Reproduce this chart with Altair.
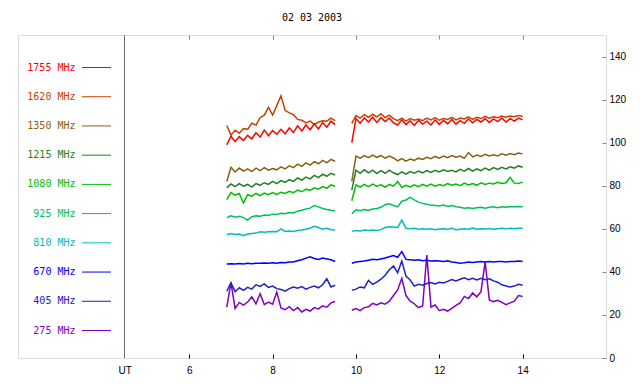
import altair as alt
import pandas as pd

# sample times (UT hours) of the two recorded segments
T1 = [round(6.9 + 0.1 * i, 2) for i in range(27)]
T2 = [round(9.9 + 0.1 * i, 2) for i in range(42)]

LABELS = ["1755 MHz", "1620 MHz", "1350 MHz", "1215 MHz", "1080 MHz",
          "925 MHz", "810 MHz", "670 MHz", "405 MHz", "275 MHz"]
COLORS = ["#ff0000", "#c84000", "#8a6010", "#228022", "#00c000",
          "#00c060", "#00bcbc", "#0000ff", "#2020c4", "#8000c0"]

S1755_A = [99.0, 103.0, 100.5, 102.8, 101.0, 103.4, 101.8, 104.6, 102.6, 105.8, 103.2, 105.6, 103.9, 106.2,
           104.1, 106.8, 104.7, 107.8, 105.4, 108.2, 106.0, 108.8, 106.4, 109.4, 107.2, 110.0, 108.4]
S1755_B = [100.0, 111.2, 109.0, 111.5, 109.6, 111.8, 109.4, 111.6, 109.8, 111.4, 109.2, 108.2, 110.6, 108.4,
           110.2, 108.0, 110.4, 108.6, 110.0, 108.2, 110.6, 108.5, 110.3, 108.8, 110.8, 108.6, 110.2, 109.0,
           111.0, 109.2, 110.8, 109.6, 111.2, 109.4, 111.0, 109.8, 111.4, 109.6, 111.2, 110.0, 111.4, 110.6]
S1620_A = [108.0, 103.5, 105.8, 104.4, 106.6, 106.2, 109.0, 108.2, 111.6, 112.8, 116.4, 112.8, 117.2, 121.8,
           115.0, 113.8, 113.0, 110.8, 110.4, 109.2, 110.0, 108.4, 109.6, 110.2, 110.0, 111.4, 110.2]
S1620_B = [109.0, 112.6, 111.4, 113.0, 111.8, 113.2, 112.0, 113.4, 111.6, 112.8, 111.2, 110.2, 111.4, 110.0,
           111.2, 110.4, 111.0, 110.2, 111.4, 110.6, 111.6, 110.4, 111.2, 110.8, 111.8, 110.6, 111.4, 111.0,
           112.0, 110.8, 111.8, 111.2, 112.2, 111.4, 112.0, 111.6, 112.4, 111.8, 112.4, 112.0, 112.6, 112.2]
S1350_A = [82.0, 88.6, 86.4, 88.2, 86.8, 87.8, 86.6, 88.2, 87.0, 88.4, 87.2, 88.0, 87.4, 88.8,
           87.8, 89.2, 88.4, 90.0, 89.0, 90.6, 89.6, 91.2, 90.2, 91.8, 90.6, 92.2, 91.4]
S1350_B = [82.0, 93.8, 92.8, 94.0, 93.0, 94.2, 93.2, 94.0, 92.8, 93.8, 92.9, 91.6, 92.6, 91.4,
           92.4, 91.8, 92.8, 92.2, 93.2, 92.6, 93.6, 92.8, 93.8, 93.0, 94.0, 93.2, 93.8, 92.8,
           95.4, 93.4, 94.2, 93.6, 94.6, 93.8, 94.4, 93.8, 94.8, 94.2, 95.0, 94.4, 95.2, 94.8]
S1215_A = [79.0, 80.8, 79.6, 81.0, 79.8, 80.6, 79.4, 81.0, 80.2, 81.4, 80.6, 82.0, 81.0, 82.4,
           81.6, 82.8, 82.0, 83.6, 82.6, 84.0, 83.2, 84.8, 83.8, 85.4, 84.4, 85.8, 85.0]
S1215_B = [78.0, 87.2, 85.8, 87.4, 86.0, 87.2, 85.6, 87.0, 85.8, 87.2, 86.0, 85.2, 86.4, 85.4,
           86.6, 85.8, 86.8, 86.0, 87.0, 86.2, 87.2, 86.4, 87.4, 86.6, 87.2, 86.4, 87.6, 86.8,
           88.0, 86.8, 87.8, 87.0, 88.2, 87.2, 88.4, 87.6, 88.6, 87.8, 88.8, 88.2, 89.2, 88.6]
S1080_A = [73.5, 76.8, 75.6, 76.4, 72.0, 75.8, 75.2, 76.4, 75.4, 76.6, 75.8, 76.8, 76.0, 77.0,
           76.4, 77.4, 76.8, 78.0, 77.2, 78.4, 77.8, 79.0, 78.4, 79.6, 78.8, 80.4, 79.8]
S1080_B = [73.0, 80.4, 79.4, 80.6, 79.6, 80.8, 79.8, 80.4, 79.4, 80.6, 79.8, 82.0, 79.2, 80.2,
           79.4, 80.4, 79.6, 80.6, 79.8, 80.8, 79.8, 80.6, 80.0, 81.0, 80.2, 80.8, 80.0, 81.2,
           80.4, 81.0, 80.2, 81.4, 80.6, 81.2, 80.8, 81.6, 81.0, 81.4, 83.8, 81.2, 81.0, 81.8]
S925_A = [65.2, 66.0, 65.4, 65.8, 65.2, 64.0, 65.6, 66.0, 65.8, 66.4, 66.2, 66.8, 66.6, 67.2,
          67.0, 67.6, 67.4, 68.2, 68.6, 69.2, 69.6, 70.8, 70.2, 69.4, 69.0, 68.6, 68.4]
S925_B = [67.0, 68.8, 68.4, 68.9, 68.6, 69.2, 69.4, 70.0, 71.2, 71.6, 70.8, 70.2, 72.8, 73.4,
          74.6, 73.4, 72.4, 71.8, 71.4, 71.0, 70.8, 70.6, 71.0, 70.4, 70.8, 70.2, 70.0, 69.6,
          69.8, 69.4, 69.8, 70.0, 69.6, 70.0, 70.2, 69.8, 70.2, 70.0, 70.4, 70.2, 70.4, 70.2]
S810_A = [57.2, 57.8, 57.4, 57.6, 56.8, 57.6, 57.8, 58.0, 58.6, 58.4, 58.6, 58.8, 58.6, 60.0,
          58.8, 59.0, 58.8, 59.2, 59.4, 59.8, 60.4, 61.2, 60.6, 59.8, 60.2, 59.6, 59.4]
S810_B = [58.8, 59.2, 59.0, 59.4, 59.2, 59.4, 59.2, 59.6, 60.6, 61.0, 60.8, 60.6, 64.0, 60.2,
          60.0, 60.2, 59.8, 60.0, 59.8, 60.0, 59.6, 59.9, 60.0, 59.8, 60.2, 59.6, 59.8, 60.0,
          59.8, 60.4, 59.8, 60.0, 59.9, 60.1, 59.8, 60.0, 60.2, 60.0, 60.2, 60.0, 60.2, 60.2]
S670_A = [43.6, 43.8, 43.6, 43.9, 43.7, 44.0, 43.8, 44.0, 44.0, 44.1, 44.0, 44.2, 44.0, 44.4,
          44.2, 44.6, 44.6, 45.2, 45.6, 46.4, 47.0, 46.2, 45.8, 46.4, 46.0, 45.6, 44.8]
S670_B = [44.0, 44.6, 44.8, 45.0, 45.4, 45.8, 45.6, 46.0, 46.4, 47.0, 47.6, 46.8, 49.4, 45.8,
          45.6, 45.4, 45.6, 45.2, 45.4, 45.0, 45.2, 45.0, 44.8, 45.2, 44.6, 44.4, 44.0, 44.2,
          44.6, 44.4, 44.6, 44.8, 44.6, 44.8, 44.6, 44.8, 44.8, 44.6, 44.8, 44.8, 45.0, 44.8]
S405_A = [31.0, 35.0, 30.8, 32.6, 31.4, 32.8, 32.0, 34.0, 33.2, 34.4, 32.8, 33.4, 32.2, 31.8,
          31.0, 32.2, 33.0, 32.4, 33.2, 32.0, 32.8, 33.4, 32.6, 34.0, 36.8, 33.0, 33.8]
S405_B = [31.4, 32.0, 33.0, 32.6, 36.0, 34.2, 35.2, 36.6, 38.4, 41.0, 42.8, 39.6, 45.0, 38.0,
          36.2, 33.4, 34.2, 33.8, 34.6, 35.0, 34.4, 35.2, 34.8, 35.6, 36.4, 35.8, 36.6, 37.2,
          36.4, 37.0, 36.2, 37.0, 36.4, 36.8, 35.8, 35.2, 34.0, 33.4, 33.0, 33.4, 34.2, 33.8]
S275_A = [23.6, 35.0, 23.0, 25.8, 24.6, 26.0, 28.4, 25.2, 29.8, 24.8, 26.0, 25.0, 30.6, 23.2,
          22.4, 23.8, 22.0, 23.4, 21.4, 22.6, 21.8, 23.4, 22.8, 24.2, 23.6, 25.6, 26.2]
S275_B = [22.2, 23.0, 22.0, 23.4, 23.8, 25.4, 24.6, 25.6, 25.0, 26.4, 29.0, 31.6, 37.0, 29.0,
          26.4, 25.2, 23.4, 24.2, 47.8, 23.6, 24.6, 22.0, 22.6, 21.8, 23.0, 24.4, 25.6, 28.6,
          27.6, 30.2, 28.4, 30.8, 44.6, 27.0, 26.2, 26.8, 25.8, 24.8, 25.6, 26.4, 29.0, 28.6]

SERIES = {
    "1755 MHz": (S1755_A, S1755_B), "1620 MHz": (S1620_A, S1620_B),
    "1350 MHz": (S1350_A, S1350_B), "1215 MHz": (S1215_A, S1215_B),
    "1080 MHz": (S1080_A, S1080_B), "925 MHz": (S925_A, S925_B),
    "810 MHz": (S810_A, S810_B), "670 MHz": (S670_A, S670_B),
    "405 MHz": (S405_A, S405_B), "275 MHz": (S275_A, S275_B),
}

XTICKS = [4.45, 6, 8, 10, 12, 14]
TOPTICKS = [6, 8, 10, 12, 14]
YTICKS = [0, 20, 40, 60, 80, 100, 120, 140]

rows = []
for lab in reversed(LABELS):  # red drawn last (on top)
    a, b = SERIES[lab]
    assert len(a) == len(T1) and len(b) == len(T2), lab
    for t, v in zip(T1, a):
        rows.append({"band": lab, "seg": lab + "A", "t": t, "v": v})
    for t, v in zip(T2, b):
        rows.append({"band": lab, "seg": lab + "B", "t": t, "v": v})
df = pd.DataFrame(rows)

FONT = "DejaVu Sans Mono"
W, H = 588, 323
x_scale = alt.Scale(domain=[1.89, 16], nice=False, zero=False)
y_scale = alt.Scale(domain=[0, 150], nice=False)
color_scale = alt.Scale(domain=LABELS, range=COLORS)

lines = alt.Chart(df).mark_line(strokeWidth=1.5).encode(
    x=alt.X("t:Q", scale=x_scale, title=None,
            axis=alt.Axis(orient="bottom", values=XTICKS, offset=-4, tickSize=4,
                          labelExpr="datum.value < 5 ? 'UT' : datum.label",
                          tickColor={"condition": {"test": "datum.value < 5", "value": "transparent"},
                                     "value": "black"},
                          labelPadding=7, domain=False, grid=False)),
    y=alt.Y("v:Q", scale=y_scale, title=None,
            axis=alt.Axis(orient="right", values=YTICKS, offset=-4, tickSize=4,
                          labelPadding=3, domain=False, grid=False)),
    color=alt.Color("band:N", scale=color_scale, legend=None),
    detail="seg:N",
)

top = alt.Chart(pd.DataFrame({"t": TOPTICKS})).mark_point(opacity=0).encode(
    x=alt.X("t:Q", scale=x_scale, title=None,
            axis=alt.Axis(orient="top", values=TOPTICKS, offset=-4, tickSize=4,
                          labels=False, domain=False, grid=False)),
)

ut_line = alt.Chart(pd.DataFrame({"a": [0]})).mark_rule(color="#707070", strokeWidth=1).encode(
    x=alt.value(106.5), y=alt.value(0), y2=alt.value(H)
)

leg_df = pd.DataFrame({"band": LABELS})
leg_y = alt.Y("band:N", scale=alt.Scale(type="point", domain=LABELS, range=[32.5, 295.5], padding=0),
              axis=None, title=None)
leg_text = alt.Chart(leg_df).mark_text(font=FONT, fontSize=10, align="right", baseline="middle").encode(
    x=alt.value(57.5), y=leg_y,
    color=alt.Color("band:N", scale=color_scale, legend=None),
    text="band:N",
)
leg_rule = alt.Chart(leg_df).mark_rule(strokeWidth=1).encode(
    x=alt.value(64), x2=alt.value(93), y=leg_y,
    color=alt.Color("band:N", scale=color_scale, legend=None),
)

chart = alt.layer(ut_line, lines, top, leg_rule, leg_text).resolve_scale(
    y="independent"
).resolve_axis(x="independent").properties(
    width=W, height=H,
    title=alt.Title("02 03 2003", font=FONT, fontSize=10, fontWeight="normal",
                    color="black", anchor="middle", offset=4, baseline="alphabetic"),
    autosize=alt.AutoSizeParams(type="none"),
    padding={"left": 10, "top": 27, "right": 26, "bottom": 17},
).configure_view(stroke="black", strokeWidth=1).configure_axis(
    labelFont=FONT, labelFontSize=10, labelColor="black", tickColor="black",
).configure(background="white")

chart.save("out.html", embed_options={"renderer": "svg", "actions": False})
